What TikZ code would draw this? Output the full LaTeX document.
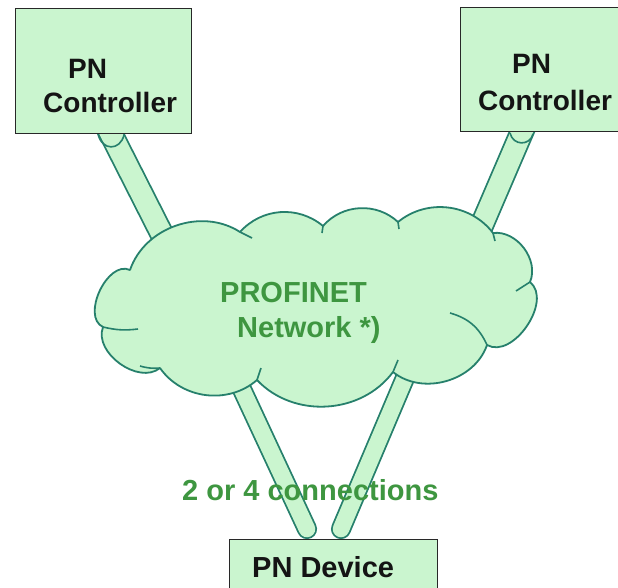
\documentclass[tikz,border=0pt]{standalone}
\usepackage{fontspec}
\setmainfont{Liberation Sans}
\usetikzlibrary{calc}
\definecolor{mint}{RGB}{202,245,207}
\definecolor{tealline}{RGB}{38,128,108}
\definecolor{boxline}{RGB}{40,40,40}
\definecolor{netgreen}{RGB}{62,150,64}

\begin{document}
\begin{tikzpicture}[x=1pt,y=1pt,
  box/.style={draw=boxline, line width=1.3pt, fill=mint, inner sep=0pt, anchor=north west},
  lbl/.style={font=\fontsize{28}{32}\selectfont\bfseries, text=black!92, inner sep=0pt, anchor=base west},
  netlbl/.style={font=\fontsize{29}{33}\selectfont\bfseries, text=netgreen, inner sep=0pt, anchor=base west},
  tube/.style={draw=tealline, line width=1.8pt, double=mint, double distance=21pt},
  thintube/.style={tube, double distance=16.5pt, line cap=round},
  cloudedge/.style={draw=tealline, line width=1.8pt},
  puff/.style={draw=tealline, line width=1.6pt},
]
\useasboundingbox (0,0) rectangle (618,-587);
\clip (0,0) rectangle (618,-587);
\fill[white] (0,0) rectangle (618,-587);

% cable end points
\coordinate (tl0) at (104,-120);
\coordinate (tl1) at (176,-262);
\coordinate (tr0) at (527,-120);
\coordinate (tr1) at (466,-262);
\coordinate (bl0) at (226,-355);
\coordinate (bl1) at (307,-529);
\coordinate (br0) at (416,-352);
\coordinate (br1) at (341,-529);

% cables
\draw[tube] (tl0) -- (tl1);
\draw[tube] (tr0) -- (tr1);
\draw[thintube] (bl0) -- (bl1);
\draw[thintube] (br0) -- (br1);

% cloud outline
\coordinate (cA) at (130,-270);
\coordinate (cB) at (240,-232);
\coordinate (cC) at (323,-226);
\coordinate (cD) at (398,-222);
\coordinate (cE) at (493,-233);
\coordinate (cF) at (530,-282);
\coordinate (cG) at (487,-345);
\coordinate (cH) at (393,-372);
\coordinate (cI) at (257,-380);
\coordinate (cJ) at (160,-368);
\coordinate (cK) at (103,-327);
\path[cloudedge, fill=mint, line join=round]
  (cA) to[bend left=52] (cB) to[bend left=44] (cC) to[bend left=46] (cD)
  to[bend left=46] (cE) to[bend left=60] (cF) to[bend left=85] (cG)
  to[bend left=55] (cH) to[bend left=50] (cI) to[bend left=48] (cJ)
  to[bend left=75] (cK) to[bend left=90] (cA) -- cycle;

% inner puff strokes
\draw[puff] (cK) to[bend right=10] (138,-329);
\draw[puff] (cJ) to[bend left=10] (140,-366);
\draw[puff] (cI) -- (261,-368);
\draw[puff] (cH) -- (398,-360);
\draw[puff] (cG) to[bend right=25] (450,-313);
\draw[puff] (cF) -- (516,-291);
\draw[puff] (cE) -- (495,-241);
\draw[puff] (cD) -- (399,-229);
\draw[puff] (cC) -- (322,-233);
\draw[puff] (cB) -- (252,-238);

% cable mouths under the controllers
\draw[puff] (98,-134) .. controls (102,-151) and (120,-151) .. (124,-135);
\draw[puff] (510,-133) .. controls (513,-146) and (530,-146) .. (533,-134);

% boxes
\node[box, minimum width=176pt, minimum height=125pt] (lc) at (15,-8) {};
\node[box, minimum width=190pt, minimum height=124pt] (rc) at (460,-7) {};
\node[box, minimum width=208pt, minimum height=70pt] (dev) at (229,-539) {};

% labels
\node[lbl] (lpn) at (68,-78) {PN};
\node[lbl] (lctl) at (43,-112) {Controller};
\node[lbl] (rpn) at (512,-73) {PN};
\node[lbl] (rctl) at (478,-110) {Controller};
\node[lbl, font=\fontsize{29}{33}\selectfont\bfseries] (devl) at (252,-577) {PN Device};

\node[netlbl] (pf) at (220,-302) {PROFINET};
\node[netlbl] (nw) at (237,-337) {Network *)};
\node[netlbl] (cn) at (182,-500) {2 or 4 connections};
\end{tikzpicture}
\end{document}
